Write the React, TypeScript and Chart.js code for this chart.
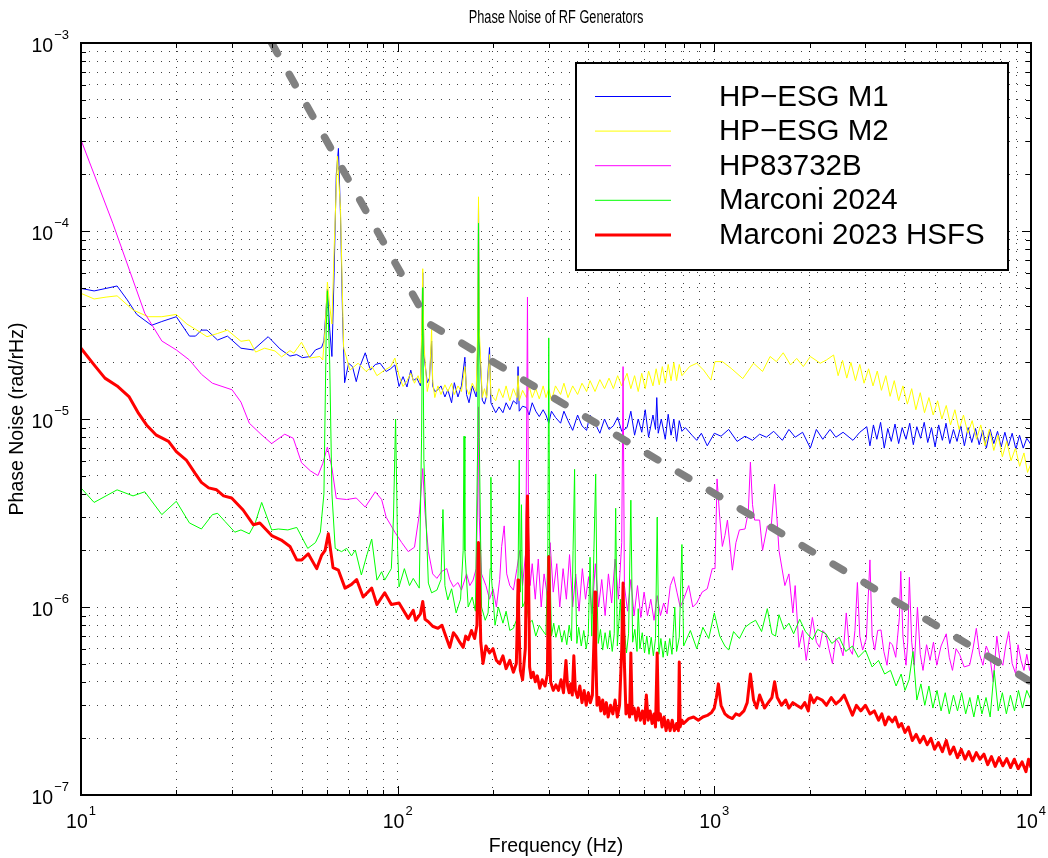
import React, { useEffect, useRef } from 'react';
import { Chart, registerables } from 'chart.js';

Chart.register(...registerables);

const FONT = '"Liberation Sans", Arial, Helvetica, sans-serif';

const chartTitle = 'Phase Noise of RF Generators';
const xAxisTitle = 'Frequency (Hz)';
const yAxisTitle = 'Phase Noise (rad/rHz)';

const seriesLabels = ['HP\u2212ESG M1', 'HP\u2212ESG M2', 'HP83732B', 'Marconi 2024', 'Marconi 2023 HSFS'];
const seriesColors = ['#0000ff', '#ffff00', '#ff00ff', '#00ff00', '#ff0000'];
const seriesWidths = [1, 1, 1, 1, 3];

type Pt = [number, number];

// [frequency Hz, phase noise rad/rtHz]
const hpEsgM1: Pt[] = [
  [10,4.95e-5],[11,4.8e-5],[12,4.95e-5],[13,5.1e-5],[14,4.3e-5],[15,3.6e-5],[16.7,3.15e-5],[18,3.3e-5],[20,3.5e-5],[22,2.76e-5],[23,2.76e-5],[24,2.97e-5],[25,2.97e-5],[27,2.63e-5],[29,2.76e-5],[32,2.38e-5],[35,2.33e-5],[39,2.74e-5],[42.5,2.36e-5],[45.7,2.16e-5],[48,2.2e-5],[50,2.12e-5],[53,2.15e-5],[55,2.33e-5],[57.5,2.4e-5],[58.5,2.6e-5],[60,4.9e-5],[61,3.0e-5],[62,2.15e-5],[63,6e-5],[64,2.0e-4],[65,2.75e-4],[66,1.2e-4],[67,3.5e-5],[68,1.56e-5],[70,1.98e-5],[72,1.9e-5],[74,1.58e-5],[76,1.9e-5],[79,2.25e-5],[82,1.82e-5],[85,1.95e-5],[88,1.98e-5],[92,1.79e-5],[95,1.85e-5],[98,1.94e-5],
  [101,1.49e-5],[104,1.68e-5],[107,1.48e-5],[110,1.82e-5],[112,1.6e-5],[115,1.65e-5],[118,1.5e-5],[119,2.5e-5],[120,6e-5],[121,2.2e-5],[124,1.56e-5],[126,1.65e-5],[128,2.6e-5],[129,1.5e-5],[131,1.4e-5],[134,1.43e-5],[137,1.5e-5],[141,1.31e-5],[144,1.43e-5],[148,1.22e-5],[151,1.56e-5],[155,1.31e-5],[159,1.5e-5],[163,2.13e-5],[165,1.35e-5],[168,1.22e-5],[172,1.5e-5],[177,1.31e-5],[179,2.5e-5],[180,1.4e-4],[181,2.6e-5],[185,1.26e-5],[188,1.2e-5],[191,1.33e-5],[195,2.4e-5],[197,1.22e-5],
  [204,1.08e-5],[209,1.16e-5],[215,1.08e-5],[220,1.22e-5],[226,1.12e-5],[232,1.25e-5],[238,1.2e-5],[240,1.9e-5],[242,1.1e-5],[248,1.17e-5],[255,1.15e-5],[260,1.05e-5],[266,1.22e-5],[273,1.1e-5],[280,1.03e-5],[288,1.12e-5],[294,1.05e-5],[300,9.5e-6],[306,1.1e-5],[315,1.02e-5],[327,9.5e-6],[335,1.1e-5],[345,9.8e-6],[357,8.7e-6],[370,1.05e-5],[382,9.2e-6],[395,8.7e-6],[405,1.05e-5],[420,9.5e-6],[435,8.4e-6],[450,1.0e-5],[465,8.8e-6],[480,9.2e-6],[495,1.02e-5],[510,8.6e-6],[530,9.0e-6],
  [545,1.1e-5],[560,8.2e-6],[575,1.0e-5],[590,8.5e-6],[605,1.12e-5],[620,8e-6],[640,1.05e-5],[652,8.8e-6],[658,1.3e-5],[665,8.4e-6],[680,1.0e-5],[700,7.8e-6],[715,1.06e-5],[730,8.2e-6],[745,1.0e-5],[760,7.6e-6],[775,9.8e-6],[790,8.6e-6],
  [810,9.0e-6],[850,8.2e-6],[880,7.7e-6],[910,8.4e-6],[950,7.2e-6],[1000,8.4e-6],[1050,8.1e-6],[1110,8.8e-6],[1180,7.6e-6],[1250,8.1e-6],[1320,7.7e-6],[1390,8.3e-6],[1460,8.0e-6],[1540,8.6e-6],[1640,7.7e-6],[1720,8.8e-6],[1800,8.0e-6],[1900,8.5e-6],[2010,7.0e-6],[2100,8.8e-6],[2200,7.8e-6],[2320,8.8e-6],[2420,8.0e-6],[2550,8.5e-6],[2740,7.7e-6],[2880,8.5e-6],[3030,9.1e-6],
  [3100,7.2e-6],[3180,9.3e-6],[3260,7.8e-6],[3350,9.6e-6],[3440,7.0e-6],[3530,8.9e-6],[3620,7.6e-6],[3720,9.4e-6],[3820,7.4e-6],[3920,9.0e-6],[4030,7.8e-6],[4140,9.5e-6],[4250,7.3e-6],[4360,9.1e-6],[4480,7.9e-6],[4600,9.6e-6],[4720,7.5e-6],[4850,9.0e-6],[4980,7.1e-6],[5110,9.3e-6],[5250,7.7e-6],[5390,9.5e-6],[5540,7.4e-6],[5690,8.8e-6],[5840,7.6e-6],[6000,9.2e-6],[6160,7.2e-6],[6330,9.0e-6],[6500,7.5e-6],[6680,8.9e-6],[6860,7.3e-6],[7040,8.7e-6],[7230,7.0e-6],[7430,8.8e-6],[7630,7.4e-6],[7840,8.6e-6],[8050,7.1e-6],[8270,8.5e-6],[8490,7.2e-6],[8720,8.4e-6],[8960,6.9e-6],[9200,8.2e-6],[9450,7.0e-6],[9700,7.9e-6],[10000,7.3e-6],
];

const hpEsgM2: Pt[] = [
  [10,4.66e-5],[11,4.35e-5],[12,4.45e-5],[13,4.52e-5],[14.6,3.8e-5],[16.3,3.5e-5],[18,3.5e-5],[20,3.6e-5],[21.6,3.2e-5],[23,3.0e-5],[25,2.74e-5],[27,2.85e-5],[29,2.97e-5],[32,2.59e-5],[34,2.63e-5],[35.6,2.27e-5],[38,2.38e-5],[41,2.3e-5],[43,2.14e-5],[45.7,2.31e-5],[47,2.24e-5],[49.7,2.56e-5],[52.8,2.11e-5],[56.8,2.15e-5],[58,2.06e-5],[59,3e-5],[60,5.35e-5],[61,4e-5],[62,3.2e-5],[63,8e-5],[64.5,2.5e-4],[66,1.3e-4],[67.5,2.4e-5],[70.7,1.82e-5],[75,1.98e-5],[79.5,1.79e-5],[83,1.9e-5],[86,1.7e-5],[91,1.82e-5],[95,1.9e-5],[98,2.11e-5],[101,1.7e-5],[104,1.49e-5],
  [107,1.6e-5],[110,1.75e-5],[113,1.55e-5],[116,1.7e-5],[118,1.55e-5],[119,2.8e-5],[120,6.3e-5],[121,2.5e-5],[124,1.4e-5],[126,1.6e-5],[128,3.0e-5],[129,1.6e-5],[131,1.3e-5],[134,1.5e-5],[137,1.35e-5],[141,1.52e-5],[144,1.4e-5],[148,1.55e-5],[151,1.35e-5],[155,1.5e-5],[159,1.4e-5],[163,1.9e-5],[165,1.45e-5],[168,1.35e-5],[172,1.55e-5],[177,1.4e-5],[179,3e-5],[180,1.52e-4],[181,3e-5],[185,1.3e-5],[188,1.45e-5],[191,1.3e-5],[195,2.2e-5],[197,1.35e-5],
  [204,1.25e-5],[209,1.45e-5],[215,1.3e-5],[220,1.5e-5],[226,1.25e-5],[232,1.45e-5],[238,1.3e-5],[240,1.7e-5],[242,1.25e-5],[248,1.42e-5],[255,1.3e-5],[260,1.5e-5],[266,1.3e-5],[273,1.45e-5],[280,1.28e-5],[288,1.5e-5],[294,1.3e-5],[300,1.45e-5],[306,1.25e-5],[315,1.5e-5],[327,1.35e-5],[335,1.55e-5],[345,1.3e-5],[357,1.5e-5],[370,1.35e-5],[382,1.55e-5],[395,1.4e-5],[405,1.6e-5],[420,1.4e-5],[435,1.62e-5],[450,1.45e-5],[465,1.65e-5],[480,1.45e-5],[495,1.7e-5],[510,1.5e-5],[530,1.75e-5],
  [545,1.45e-5],[560,1.7e-5],[575,1.4e-5],[590,1.75e-5],[605,1.45e-5],[620,1.8e-5],[640,1.5e-5],[655,1.85e-5],[670,1.52e-5],[685,1.9e-5],[700,1.55e-5],[715,1.95e-5],[730,1.6e-5],[745,2.0e-5],[760,1.6e-5],[775,1.95e-5],[790,1.7e-5],
  [835,1.9e-5],[880,1.98e-5],[925,1.82e-5],[975,1.61e-5],[1005,2.02e-5],[1060,2.02e-5],[1130,1.86e-5],[1230,1.64e-5],[1330,1.98e-5],[1420,1.79e-5],[1500,2.15e-5],[1570,2.02e-5],[1650,2.25e-5],[1740,1.94e-5],[1820,2.1e-5],[1910,1.9e-5],[2010,2.15e-5],[2160,1.98e-5],[2260,2.06e-5],[2380,2.19e-5],
  [2460,1.7e-5],[2540,2.05e-5],[2620,1.65e-5],[2700,2.0e-5],[2790,1.6e-5],[2880,1.95e-5],[2970,1.55e-5],[3070,1.85e-5],[3170,1.5e-5],[3270,1.8e-5],[3370,1.42e-5],[3480,1.7e-5],[3590,1.32e-5],[3700,1.6e-5],[3820,1.25e-5],[3940,1.5e-5],[4070,1.2e-5],[4200,1.45e-5],[4330,1.12e-5],[4470,1.38e-5],[4610,1.08e-5],[4760,1.3e-5],[4910,1.05e-5],[5070,1.25e-5],[5230,1.0e-5],[5400,1.18e-5],[5570,9.3e-6],[5750,1.12e-5],[5930,8.8e-6],[6120,1.05e-5],[6320,8.4e-6],[6520,9.8e-6],[6730,7.8e-6],[6940,9.3e-6],[7160,7.2e-6],[7390,8.8e-6],[7630,6.8e-6],[7870,8.2e-6],[8120,6.3e-6],[8380,7.6e-6],[8650,6.0e-6],[8930,7.0e-6],[9210,5.6e-6],[9500,6.6e-6],[9750,5.2e-6],[10000,5.8e-6],
];

const hp83732B: Pt[] = [
  [10,3.05e-4],[12.6,1.1e-4],[15.9,3.65e-5],[18,2.6e-5],[20,2.33e-5],[22,2.06e-5],[24,1.73e-5],[26,1.55e-5],[30,1.43e-5],[32,1.23e-5],[34,9.5e-6],[37,8.3e-6],[40,7.4e-6],[44,8.3e-6],[46.8,7.9e-6],[49.7,5.86e-6],[53,5.3e-6],[56,5.0e-6],[58,5.8e-6],[60,7.1e-6],[62,5.5e-6],[64,3.78e-6],[69,3.73e-6],[74,3.8e-6],[79,3.4e-6],[85,4.1e-6],[89,3.73e-6],[92,3.0e-6],[98,2.5e-6],[103,2.2e-6],[108,1.97e-6],[113,2.08e-6],[117,3.1e-6],[120,5.45e-6],[122,3.2e-6],[125,1.98e-6],[129,1.5e-6],[133,1.42e-6],[138,1.55e-6],[143,1.6e-6],[146,1.4e-6],[150,1.28e-6],[155,1.35e-6],[159,1.23e-6],[165,1.5e-6],[169,1.3e-6],[173,1.39e-6],[177,1.6e-6],[179,4e-6],[180,1.16e-5],[181,3e-6],[184,1.5e-6],[190,1.3e-6],[195,1.1e-6],[200,1.25e-6],[205,1.0e-6],[210,1.4e-6],[213,2.1e-6],[217,2.7e-6],[221,1.5e-6],[226,1.3e-6],[232,1.23e-6],[238,1.6e-6],[243,2.0e-6],[248,1.3e-6],[254,2e-6],[257,4.45e-5],[259,2.5e-6],[262,1.3e-6],[266,1.7e-6],[272,1.1e-6],[278,1.8e-6],[284,1.0e-6],[290,1.5e-6],[297,1.15e-6],[303,2.2e-6],[310,1.2e-6],[318,1.7e-6],[325,1.0e-6],[333,1.6e-6],[341,1.1e-6],[349,1.9e-6],[357,1.0e-6],[365,1.5e-6],[374,9.5e-7],[383,1.6e-6],[392,1.1e-6],[401,1.45e-6],[411,9.2e-7],[421,1.7e-6],[431,1.0e-6],[441,1.4e-6],[452,9.0e-7],[463,1.5e-6],[474,1.05e-6],[486,1.8e-6],[498,1.1e-6],[510,2.2e-6],[515,1.9e-5],[520,1.3e-6],[532,9.5e-7],[545,1.4e-6],[558,9.0e-7],[572,1.3e-6],[586,8.8e-7],[600,1.2e-6],[615,9.0e-7],[630,1.1e-6],[645,8.5e-7],[660,1.15e-6],[676,9.0e-7],[692,1.05e-6],[709,9.2e-7],[726,1.3e-6],[744,1.45e-6],[762,1.2e-6],[780,1.0e-6],[800,1.1e-6],[830,1.3e-6],[855,1.0e-6],[880,1.05e-6],[915,1.2e-6],[950,1.25e-6],[985,1.6e-6],[1005,1.6e-6],[1020,4.8e-6],[1040,3.0e-6],[1060,2.1e-6],[1080,2.4e-6],[1100,2.9e-6],[1140,1.57e-6],[1170,2.2e-6],[1200,2.57e-6],[1250,2.6e-6],[1280,3.2e-6],[1300,5.9e-6],[1320,3.5e-6],[1340,2.9e-6],[1390,2.9e-6],[1420,2.0e-6],[1470,2.7e-6],[1510,2.6e-6],[1550,4.5e-6],[1580,2.8e-6],[1600,2.0e-6],[1670,1.3e-6],[1720,1.5e-6],[1770,9.3e-7],[1800,1.3e-6],[1850,6.1e-7],[1900,7.5e-7],[1950,5.2e-7],[2000,7.0e-7],[2040,8.8e-7],[2100,6.5e-7],[2150,6.1e-7],[2200,7.5e-7],[2250,7.2e-7],[2300,6.0e-7],[2360,5.0e-7],[2420,6.8e-7],[2480,6.4e-7],[2550,5.5e-7],[2610,9.3e-7],[2670,6.0e-7],[2730,5.6e-7],[2780,7.5e-7],[2830,1.35e-6],[2880,7.0e-7],[2940,5.9e-7],[3020,6.8e-7],[3100,1.78e-6],[3150,7.0e-7],[3210,5.9e-7],[3280,7.5e-7],[3360,7.55e-7],[3430,5.8e-7],[3510,4.9e-7],[3580,6.5e-7],[3650,6.3e-7],[3740,5.4e-7],[3840,8.8e-7],[3880,1.55e-6],[3940,7.0e-7],[4030,4.9e-7],[4080,6.5e-7],[4130,1.44e-6],[4200,6.5e-7],[4280,4.9e-7],[4380,1.0e-6],[4470,5.6e-7],[4560,4.6e-7],[4680,6.3e-7],[4800,5.2e-7],[4920,6.5e-7],[5040,4.9e-7],[5200,6.2e-7],[5400,7.2e-7],[5520,5.4e-7],[5650,4.6e-7],[5800,6.0e-7],[5950,5.6e-7],[6150,4.8e-7],[6400,4.9e-7],[6560,6.0e-7],[6720,7.7e-7],[6880,5.6e-7],[7050,4.9e-7],[7220,6.2e-7],[7400,5.6e-7],[7600,4.0e-7],[7800,7.0e-7],[7980,5.2e-7],[8150,4.9e-7],[8320,6.2e-7],[8500,7.4e-7],[8720,5.0e-7],[8950,4.4e-7],[9100,6.3e-7],[9300,5.2e-7],[9500,4.6e-7],[9700,5.6e-7],[9900,4.6e-7],[10000,5.0e-7],
];

const marconi2024: Pt[] = [
  [10,4.3e-6],[11,3.6e-6],[12,3.9e-6],[13,4.2e-6],[14.6,3.9e-6],[15.9,4.1e-6],[18,3.1e-6],[20,3.65e-6],[22,2.8e-6],[24,2.6e-6],[26,3.1e-6],[27,3.15e-6],[28.5,2.85e-6],[30.6,2.5e-6],[32,2.57e-6],[34,2.45e-6],[35.5,2.8e-6],[37.2,3.6e-6],[40,2.57e-6],[42,2.6e-6],[45,2.57e-6],[48,2.65e-6],[52,2.05e-6],[55,2.2e-6],[57,2.5e-6],[58.5,4e-6],[59.5,3e-5],[60,4.8e-5],[61,2e-5],[62,4e-6],[63.5,2.05e-6],[66.5,1.97e-6],[69,2.05e-6],[71.5,1.87e-6],[73.5,2.01e-6],[76.8,1.48e-6],[80,1.9e-6],[82.8,2.3e-6],[86,1.39e-6],[89,1.54e-6],[91,1.39e-6],[95.5,1.6e-6],[97,3e-6],[98.5,1.0e-5],[100,2.0e-6],[101,1.28e-6],[105,1.6e-6],[109,1.3e-6],[112,1.42e-6],[117,1.26e-6],[119,8e-6],[120,5.0e-5],[121,6e-6],[125,1.34e-6],[128,1.19e-6],[133,1.23e-6],[137,1.4e-6],[139,3.3e-6],[141,1.3e-6],[144,1.09e-6],[148,1.25e-6],[153,9.3e-7],[158,1.1e-6],[161,2e-6],[162,8.1e-6],[163,2e-6],[167,1.0e-6],[172,1.13e-6],[176,9.5e-7],[179,8e-6],[180,1.1e-4],[181,8e-6],[184,1.0e-6],[189,8.5e-7],[193,9.3e-7],[196,1.6e-6],[197,4.9e-6],[198,1.4e-6],[203,8e-7],[208,1.0e-6],[215,8.2e-7],[220,9.5e-7],[226,7.5e-7],[232,7.7e-7],[237,8.5e-7],[240,1.5e-6],[242,6.05e-6],[244,1.2e-6],[246,3.5e-6],[248,1.0e-6],[254,1.09e-6],[260,8.2e-7],[266,8.5e-7],[273,7.0e-7],[280,8.0e-7],[287,7.5e-7],[294,7.1e-7],[298,2e-6],[300,2.7e-5],[302,2e-6],[306,7.0e-7],[311,8.2e-7],[316,6.9e-7],[323,8.0e-7],[330,6.5e-7],[336,7.5e-7],[342,6.3e-7],[348,8.0e-7],[354,6.6e-7],[358,2e-6],[362,5.4e-6],[364,1.5e-6],[368,6.4e-7],[373,7.8e-7],[380,6.2e-7],[387,7.5e-7],[394,6.0e-7],[400,7.2e-7],[405,1.84e-6],[410,7.0e-7],[415,1.5e-6],[422,5.1e-6],[426,1.2e-6],[430,6.4e-7],[437,7.6e-7],[444,5.9e-7],[452,7.3e-7],[460,6.0e-7],[468,7.5e-7],[476,5.8e-7],[483,7.2e-7],[488,3.35e-6],[494,6.2e-7],[505,1.1e-6],[512,6.0e-7],[520,7.4e-7],[528,5.7e-7],[536,7.2e-7],[545,3.7e-6],[552,6.5e-7],[561,7.6e-7],[570,5.8e-7],[575,9.8e-7],[582,6.0e-7],[592,7.3e-7],[602,5.7e-7],[612,7.0e-7],[622,5.6e-7],[632,6.9e-7],[642,5.5e-7],[652,6.8e-7],[660,3.0e-6],[668,5.6e-7],[678,6.8e-7],[689,5.4e-7],[700,6.6e-7],[711,5.5e-7],[723,6.8e-7],[735,5.6e-7],[750,1.0e-6],[760,5.8e-7],[775,6.9e-7],[790,2.15e-6],[800,6.2e-7],
  [840,7.5e-7],[880,6.0e-7],[920,7.8e-7],[960,6.8e-7],[1000,9.3e-7],[1040,7.0e-7],[1080,6.2e-7],[1110,5.9e-7],[1150,7.4e-7],[1200,6.8e-7],[1250,7.8e-7],[1300,8.2e-7],[1350,8.5e-7],[1410,7.4e-7],[1470,9.8e-7],[1520,7.2e-7],[1560,7.0e-7],[1600,9.1e-7],[1660,7.6e-7],[1720,8.2e-7],[1780,7.2e-7],[1860,8.6e-7],[1940,7.4e-7],[2040,6.7e-7],[2120,7.6e-7],[2250,7.2e-7],[2350,6.4e-7],[2480,6.9e-7],[2600,5.8e-7],[2730,6.2e-7],[2850,5.4e-7],[3000,5.9e-7],[3150,4.8e-7],[3300,5.2e-7],[3450,4.4e-7],[3600,4.6e-7],
  [3750,3.8e-7],[3890,4.4e-7],[4000,3.6e-7],[4120,4.1e-7],[4240,5.8e-7],[4360,3.2e-7],[4490,3.9e-7],[4620,3.0e-7],[4760,3.8e-7],[4900,2.9e-7],[5050,3.6e-7],[5200,2.8e-7],[5360,3.5e-7],[5520,2.7e-7],[5690,3.4e-7],[5860,2.8e-7],[6040,3.5e-7],[6220,2.7e-7],[6410,3.3e-7],[6600,2.6e-7],[6800,3.4e-7],[7000,2.7e-7],[7210,3.3e-7],[7430,2.6e-7],[7650,4.6e-7],[7880,2.8e-7],[8120,3.5e-7],[8360,2.7e-7],[8610,3.4e-7],[8870,2.8e-7],[9130,3.6e-7],[9400,2.9e-7],[9700,3.6e-7],[10000,3.2e-7],
];

const marconi2023: Pt[] = [
  [10,2.38e-5],[11,1.94e-5],[11.9,1.65e-5],[13,1.5e-5],[14.2,1.31e-5],[15.2,1.07e-5],[16.1,9.3e-6],[17.3,8.2e-6],[18.9,7.6e-6],[20,6.7e-6],[21.5,6.05e-6],[22.9,5.15e-6],[24,4.6e-6],[25.3,4.3e-6],[26.8,4.2e-6],[28.2,3.9e-6],[29.9,3.8e-6],[32.5,3.28e-6],[35,2.74e-6],[36.7,2.8e-6],[40,2.4e-6],[42.9,2.27e-6],[45.7,2.1e-6],[48,1.78e-6],[49.8,1.78e-6],[52.2,1.92e-6],[55.5,1.6e-6],[57.5,1.88e-6],[59,2.0e-6],[60.4,2.45e-6],[62.5,1.62e-6],[65,1.57e-6],[68.2,1.26e-6],[71.5,1.32e-6],[74.2,1.4e-6],[77.8,1.13e-6],[82.8,1.26e-6],[86,1.03e-6],[91,1.19e-6],[95.5,1.03e-6],[101,1.05e-6],[108,8.7e-7],[112,9.6e-7],[114,8.5e-7],[118,9.2e-7],[120,1.07e-6],[122,8.6e-7],[125,8.35e-7],[129,7.9e-7],[134,7.7e-7],[138,8.0e-7],[141,7.2e-7],[146,6.1e-7],[150,7.3e-7],[153,7.0e-7],[157,6.5e-7],[161,6.1e-7],[164,7.0e-7],[167,6.7e-7],[171,7.5e-7],[175,6.8e-7],[178,8e-7],[179,1.5e-6],[180,2.2e-6],[181,1.5e-6],[183,6.5e-7],[186,5.0e-7],[190,6.2e-7],[195,5.7e-7],[200,6.0e-7],[205,5.2e-7],[210,5.0e-7],[215,5.5e-7],[220,4.7e-7],[226,5.2e-7],[232,4.5e-7],[237,5.0e-7],[239,9e-7],[240,1.39e-6],[241,9e-7],[244,4.6e-7],[248,4.1e-7],[253,6e-7],[256,3.0e-6],[257,3.9e-6],[259,1.5e-6],[261,4.8e-7],[264,4.2e-7],[268,4.5e-7],[272,4.0e-7],[276,4.3e-7],[281,3.7e-7],[286,4.1e-7],[292,3.8e-7],[297,4.4e-7],[299,1.2e-6],[300,1.85e-6],[301,1.2e-6],[304,4.0e-7],[310,3.6e-7],[316,3.85e-7],[322,3.6e-7],[328,4.1e-7],[334,3.5e-7],[340,5.2e-7],[344,3.8e-7],[348,3.5e-7],[352,3.9e-7],[356,3.4e-7],[360,5.5e-7],[364,3.6e-7],[370,3.3e-7],[376,3.8e-7],[382,3.1e-7],[388,3.6e-7],[394,3.0e-7],[400,3.5e-7],[406,3.1e-7],[412,3.4e-7],[418,8e-7],[420,1.2e-6],[422,6e-7],[426,3.0e-7],[432,3.3e-7],[438,2.8e-7],[444,3.2e-7],[450,2.7e-7],[456,3.1e-7],[462,2.6e-7],[470,3.0e-7],[478,2.7e-7],[486,3.2e-7],[494,2.6e-7],[502,3.0e-7],[510,6e-7],[515,1.34e-6],[520,5e-7],[526,2.7e-7],[533,3.0e-7],[540,2.6e-7],[545,5.7e-7],[550,2.7e-7],[558,2.9e-7],[566,2.5e-7],[575,2.9e-7],[584,2.5e-7],[593,2.8e-7],[602,2.4e-7],[610,3.4e-7],[618,2.5e-7],[627,2.8e-7],[636,2.4e-7],[645,2.7e-7],[652,2.3e-7],[660,5.7e-7],[666,2.5e-7],[675,2.7e-7],[684,2.3e-7],[694,2.6e-7],[704,2.2e-7],[714,2.5e-7],[725,2.2e-7],[736,2.5e-7],[748,2.2e-7],[760,2.4e-7],[770,2.2e-7],[775,5.1e-7],[780,2.3e-7],[790,2.5e-7],
  [800,2.4e-7],[830,2.55e-7],[860,2.6e-7],[890,2.5e-7],[920,2.6e-7],[950,2.65e-7],[980,2.75e-7],[1000,2.9e-7],[1015,3.3e-7],[1030,3.9e-7],[1050,3.0e-7],[1080,2.7e-7],[1110,2.6e-7],[1140,2.55e-7],[1170,2.7e-7],[1200,2.65e-7],[1240,2.8e-7],[1270,3.1e-7],[1300,4.4e-7],[1330,3.2e-7],[1360,2.9e-7],[1390,3.4e-7],[1420,3.1e-7],[1440,2.9e-7],[1480,3.1e-7],[1520,3.3e-7],[1550,4.0e-7],[1580,3.3e-7],[1630,3.0e-7],[1680,3.2e-7],[1720,2.9e-7],[1770,3.1e-7],[1820,3.0e-7],[1880,2.9e-7],[1930,3.1e-7],[1980,2.8e-7],[2010,3.4e-7],[2060,3.1e-7],[2110,3.3e-7],[2190,3.2e-7],[2260,3.0e-7],[2340,3.3e-7],[2420,3.05e-7],[2500,3.2e-7],[2570,3.4e-7],[2650,3.0e-7],[2730,2.66e-7],[2810,3.0e-7],[2900,2.8e-7],[3000,3.0e-7],
  [3100,2.7e-7],[3200,2.8e-7],[3300,2.5e-7],[3380,2.7e-7],[3460,2.36e-7],[3550,2.6e-7],[3650,2.45e-7],[3730,2.6e-7],[3820,2.3e-7],[3900,2.4e-7],[4000,2.15e-7],[4100,2.3e-7],[4220,1.95e-7],[4340,2.1e-7],[4460,1.9e-7],[4580,2.05e-7],[4700,1.85e-7],[4830,2.0e-7],[4960,1.75e-7],[5100,1.9e-7],[5250,1.7e-7],[5400,1.95e-7],[5550,1.65e-7],[5700,1.8e-7],[5860,1.58e-7],[6020,1.75e-7],[6190,1.55e-7],[6360,1.7e-7],[6540,1.52e-7],[6720,1.68e-7],[6900,1.55e-7],[7100,1.65e-7],[7300,1.45e-7],[7500,1.6e-7],[7710,1.42e-7],[7930,1.58e-7],[8150,1.43e-7],[8380,1.56e-7],[8620,1.4e-7],[8860,1.55e-7],[9110,1.38e-7],[9370,1.5e-7],[9640,1.33e-7],[9820,1.55e-7],[10000,1.4e-7],
];

// grey reference slope
const refFreq = [40, 126, 10000];
const refValue = [1e-3, 3.2e-5, 4e-7];

// axes
const xMin = 10, xMax = 10000, yMin = 1e-7, yMax = 1e-3;
const xDecades = [10, 100, 1000];
const yDecades = [1e-7, 1e-6, 1e-5, 1e-4];
const mantissas = [1, 2, 3, 4, 5, 6, 7, 8, 9];
const tickBase = '10';
const xLabelValues = [10, 100, 1000, 10000];
const xLabelExps = ['1', '2', '3', '4'];
const yLabelValues = [1e-7, 1e-6, 1e-5, 1e-4, 1e-3];
const yLabelExps = ['\u22127', '\u22126', '\u22125', '\u22124', '\u22123'];

const xGridTicks = [...xDecades.flatMap((d) => mantissas.map((m) => d * m)), xMax];
const yGridTicks = [...yDecades.flatMap((d) => mantissas.map((m) => d * m)), yMax];

const isDecade = (v: number) => Math.abs(Math.log10(v) - Math.round(Math.log10(v))) < 1e-6;

const matlabAxes = {
  id: 'matlabAxes',
  afterDatasetsDraw(chart: any) {
    const { ctx, chartArea } = chart;
    const { left, right, top, bottom } = chartArea;
    const xs = chart.scales.x;
    const ys = chart.scales.y;
    ctx.save();
    ctx.setLineDash([]);
    ctx.strokeStyle = '#000';
    ctx.lineWidth = 1;
    ctx.beginPath();
    xs.ticks.forEach((t: any) => {
      const p = Math.round(xs.getPixelForValue(t.value)) + 0.5;
      const len = isDecade(t.value) ? 9 : 5;
      ctx.moveTo(p, bottom);
      ctx.lineTo(p, bottom - len);
      ctx.moveTo(p, top);
      ctx.lineTo(p, top + len);
    });
    ys.ticks.forEach((t: any) => {
      const p = Math.round(ys.getPixelForValue(t.value)) + 0.5;
      const len = isDecade(t.value) ? 9 : 5;
      ctx.moveTo(left, p);
      ctx.lineTo(left + len, p);
      ctx.moveTo(right, p);
      ctx.lineTo(right - len, p);
    });
    ctx.stroke();
    ctx.lineWidth = 2;
    ctx.strokeRect(left, top, right - left, bottom - top);

    const baseFont = `19.5px ${FONT}`;
    const expFont = `13px ${FONT}`;
    ctx.fillStyle = '#000';
    ctx.textBaseline = 'alphabetic';
    ctx.textAlign = 'left';
    xLabelValues.forEach((v, i) => {
      ctx.font = baseFont;
      const wb = ctx.measureText(tickBase).width;
      ctx.font = expFont;
      const we = ctx.measureText(xLabelExps[i]).width;
      const cx = xs.getPixelForValue(v);
      const x0 = cx - (wb + we + 1) / 2;
      const by = bottom + 33;
      ctx.font = baseFont;
      ctx.fillText(tickBase, x0, by);
      ctx.font = expFont;
      ctx.fillText(xLabelExps[i], x0 + wb + 1, by - 13.5);
    });
    yLabelValues.forEach((v, i) => {
      ctx.font = baseFont;
      const wb = ctx.measureText(tickBase).width;
      ctx.font = expFont;
      const we = ctx.measureText(yLabelExps[i]).width;
      const py = ys.getPixelForValue(v);
      const x1 = left - 12;
      const x0 = x1 - (wb + we + 1);
      const by = py + 9;
      ctx.font = baseFont;
      ctx.fillText(tickBase, x0, by);
      ctx.font = expFont;
      ctx.fillText(yLabelExps[i], x0 + wb + 1, by - 13.5);
    });
    ctx.restore();
  },
  afterDraw(chart: any) {
    const { ctx, chartArea } = chart;
    // title (condensed, as in the original figure)
    ctx.save();
    ctx.fillStyle = '#000';
    ctx.font = `17.5px ${FONT}`;
    ctx.textAlign = 'center';
    ctx.textBaseline = 'middle';
    ctx.translate((chartArea.left + chartArea.right) / 2, 18);
    ctx.scale(0.73, 1);
    ctx.fillText(chartTitle, 0, 0);
    ctx.restore();

    const lg = { left: 576, top: 63, right: 1008, bottom: 270, lineX0: 595, lineX1: 671, textX: 719, firstY: 97.5, step: 34.6, size: 29.5 };
    ctx.save();
    ctx.setLineDash([]);
    ctx.fillStyle = '#fff';
    ctx.fillRect(lg.left, lg.top, lg.right - lg.left, lg.bottom - lg.top);
    ctx.strokeStyle = '#000';
    ctx.lineWidth = 2;
    ctx.strokeRect(lg.left, lg.top, lg.right - lg.left, lg.bottom - lg.top);
    chart.data.datasets.forEach((ds: any, i: number) => {
      if (!ds.label) return;
      const y = lg.firstY + i * lg.step;
      ctx.strokeStyle = ds.borderColor;
      ctx.lineWidth = ds.borderWidth;
      ctx.beginPath();
      ctx.moveTo(lg.lineX0, y - 1);
      ctx.lineTo(lg.lineX1, y - 1);
      ctx.stroke();
      ctx.fillStyle = '#000';
      ctx.font = `${lg.size}px ${FONT}`;
      ctx.textBaseline = 'middle';
      ctx.textAlign = 'left';
      ctx.fillText(ds.label, lg.textX, y);
    });
    ctx.restore();
  },
};

export default function App() {
  const canvasRef = useRef<HTMLCanvasElement | null>(null);

  useEffect(() => {
    if (!canvasRef.current) return;
    const seriesData = [hpEsgM1, hpEsgM2, hp83732B, marconi2024, marconi2023];
    const datasets: any[] = seriesData.map((pts, i) => ({
      label: seriesLabels[i],
      data: pts.map(([f, v]) => ({ x: f, y: v })),
      borderColor: seriesColors[i],
      backgroundColor: seriesColors[i],
      borderWidth: seriesWidths[i],
      pointRadius: 0,
      tension: 0,
      fill: false,
      clip: 0,
      borderJoinStyle: 'round',
      order: 10 - i,
    }));
    datasets.push({
      label: '',
      data: refFreq.map((f, i) => ({ x: f, y: refValue[i] })),
      borderColor: '#808080',
      borderWidth: 7.5,
      borderDash: [12, 24],
      borderCapStyle: 'round',
      pointRadius: 0,
      tension: 0,
      fill: false,
      clip: 0,
      order: 1,
    });

    const chart = new Chart(canvasRef.current, {
      type: 'line',
      data: { datasets },
      options: {
        animation: false,
        responsive: false,
        devicePixelRatio: 1,
        events: [],
        layout: { padding: { left: 0, right: 17, top: 43, bottom: 0 } },
        plugins: {
          legend: { display: false },
          tooltip: { enabled: false },
          title: { display: false, text: chartTitle },
        },
        scales: {
          x: {
            type: 'logarithmic',
            min: xMin,
            max: xMax,
            afterBuildTicks: (axis: any) => {
              axis.ticks = xGridTicks.map((v) => ({ value: v }));
            },
            afterFit: (axis: any) => {
              axis.height = 63;
            },
            ticks: { display: false, autoSkip: false },
            grid: { display: true, drawTicks: false, color: 'rgba(0,0,0,0.75)', lineWidth: 1 },
            border: { display: false, dash: [1, 7] },
            title: {
              display: true,
              text: xAxisTitle,
              color: '#000',
              font: { family: FONT, size: 19.5 },
              padding: { top: 0, bottom: 0 },
            },
          },
          y: {
            type: 'logarithmic',
            min: yMin,
            max: yMax,
            afterBuildTicks: (axis: any) => {
              axis.ticks = yGridTicks.map((v) => ({ value: v }));
            },
            afterFit: (axis: any) => {
              axis.width = 81;
            },
            ticks: { display: false, autoSkip: false },
            grid: { display: true, drawTicks: false, color: 'rgba(0,0,0,0.75)', lineWidth: 1 },
            border: { display: false, dash: [1, 7] },
            title: {
              display: true,
              text: yAxisTitle,
              color: '#000',
              font: { family: FONT, size: 19.5 },
              padding: { top: 6, bottom: 0 },
            },
          },
        },
      },
      plugins: [matlabAxes],
    } as any);

    return () => chart.destroy();
  }, []);

  return (
    <div style={{ position: 'absolute', left: 0, top: 0, width: 1048, height: 858, background: '#fff' }}>
      <canvas ref={canvasRef} width={1048} height={858} style={{ display: 'block' }} />
    </div>
  );
}
